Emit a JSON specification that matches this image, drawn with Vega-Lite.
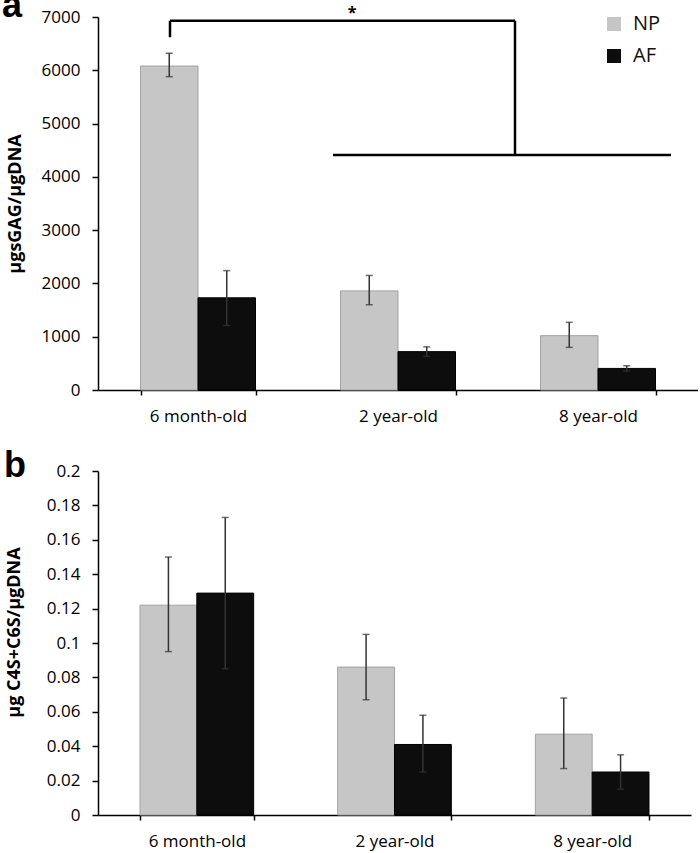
{
  "$schema": "https://vega.github.io/schema/vega-lite/v6.json",
  "padding": {"left": 2, "top": -12, "right": 0, "bottom": 14},
  "background": "white",
  "datasets": {
    "gag": [
      {"age": "6 month-old", "type": "NP", "mean": 6080, "lo": 5880, "hi": 6320},
      {"age": "6 month-old", "type": "AF", "mean": 1730, "lo": 1210, "hi": 2240},
      {"age": "2 year-old", "type": "NP", "mean": 1860, "lo": 1600, "hi": 2150},
      {"age": "2 year-old", "type": "AF", "mean": 720, "lo": 630, "hi": 810},
      {"age": "8 year-old", "type": "NP", "mean": 1020, "lo": 800, "hi": 1270},
      {"age": "8 year-old", "type": "AF", "mean": 405, "lo": 355, "hi": 455}
    ],
    "c4s": [
      {"age": "6 month-old", "type": "NP", "mean": 0.122, "lo": 0.095, "hi": 0.150},
      {"age": "6 month-old", "type": "AF", "mean": 0.129, "lo": 0.085, "hi": 0.173},
      {"age": "2 year-old", "type": "NP", "mean": 0.086, "lo": 0.067, "hi": 0.105},
      {"age": "2 year-old", "type": "AF", "mean": 0.041, "lo": 0.025, "hi": 0.058},
      {"age": "8 year-old", "type": "NP", "mean": 0.047, "lo": 0.027, "hi": 0.068},
      {"age": "8 year-old", "type": "AF", "mean": 0.025, "lo": 0.015, "hi": 0.035}
    ],
    "bracket": [
      {"x1": 0.36, "x2": 2.085, "y1": 6930, "y2": 6930},
      {"x1": 0.36, "x2": 0.36, "y1": 6620, "y2": 6930},
      {"x1": 2.085, "x2": 2.085, "y1": 4410, "y2": 6930},
      {"x1": 1.175, "x2": 2.865, "y1": 4410, "y2": 4410}
    ],
    "star": [
      {"x": 1.27, "y": 7080, "label": "*"}
    ],
    "labelA": [
      {"x": -0.48, "y": 7000, "label": "a"}
    ],
    "labelB": [
      {"x": -0.475, "y": 0.1965, "label": "b"}
    ]
  },
  "config": {
    "view": {"stroke": null},
    "font": "Open Sans",
    "axis": {
      "domainColor": "#000",
      "domainWidth": 1.5,
      "tickColor": "#000",
      "tickWidth": 1.5,
      "labelColor": "#000",
      "titleColor": "#000",
      "grid": false,
      "labelOverlap": false,
      "labelSeparation": 0
    }
  },
  "spacing": 24,
  "resolve": {
    "scale": {"x": "independent", "y": "independent", "color": "independent", "xOffset": "independent", "stroke": "independent"},
    "legend": {"color": "independent"}
  },
  "vconcat": [
    {
      "width": 600,
      "height": 373,
      "resolve": {"scale": {"x": "independent"}, "axis": {"x": "independent"}},
      "layer": [
        {
          "data": {"name": "gag"},
          "encoding": {
            "x": {
              "field": "age", "type": "nominal",
              "sort": ["6 month-old", "2 year-old", "8 year-old"],
              "scale": {"paddingInner": 0.425, "paddingOuter": 0.2125},
              "axis": {"title": null, "labelAngle": 0, "labelFontSize": 17, "labelPadding": 13, "tickBand": "extent", "tickSize": 5}
            },
            "xOffset": {"field": "type", "type": "nominal", "sort": ["NP", "AF"]}
          },
          "layer": [
            {
              "mark": {"type": "bar", "strokeWidth": 1},
              "encoding": {
                "y": {
                  "field": "mean", "type": "quantitative",
                  "scale": {"domain": [0, 7000], "nice": false},
                  "axis": {"title": "µgsGAG/µgDNA", "values": [0, 1000, 2000, 3000, 4000, 5000, 6000, 7000], "format": "d", "labelFontSize": 17, "labelPadding": 12, "labelOverlap": false, "tickSize": 6, "titleFontSize": 18, "titleFontWeight": "bold", "titleX": -83, "titleBaseline": "middle", "titleAngle": -90}
                },
                "color": {
                  "field": "type", "type": "nominal",
                  "scale": {"domain": ["NP", "AF"], "range": ["#c6c6c6", "#0d0d0d"]},
                  "legend": {"title": null, "orient": "none", "legendX": 506, "legendY": -3, "symbolType": "square", "symbolSize": 196, "labelFontSize": 20, "labelOffset": 9, "rowPadding": 12, "padding": 0, "labelColor": "#111", "symbolStrokeWidth": 0}
                },
                "stroke": {
                  "field": "type", "type": "nominal",
                  "scale": {"domain": ["NP", "AF"], "range": ["#a3a3a3", "#000000"]},
                  "legend": null
                }
              }
            },
            {
              "mark": {"type": "rule", "color": "#333", "strokeWidth": 1.5},
              "encoding": {"y": {"field": "lo", "type": "quantitative"}, "y2": {"field": "hi"}}
            },
            {
              "mark": {"type": "tick", "color": "#333", "thickness": 1.5, "size": 7},
              "encoding": {"y": {"field": "hi", "type": "quantitative"}}
            },
            {
              "mark": {"type": "tick", "color": "#333", "thickness": 1.5, "size": 7},
              "encoding": {"y": {"field": "lo", "type": "quantitative"}}
            }
          ]
        },
        {
          "layer": [
            {
              "data": {"name": "bracket"},
              "mark": {"type": "rule", "color": "#000", "strokeWidth": 2.5},
              "encoding": {
                "x": {"field": "x1", "type": "quantitative", "scale": {"domain": [0, 3], "nice": false, "zero": false}, "axis": null},
                "x2": {"field": "x2"},
                "y": {"field": "y1", "type": "quantitative"},
                "y2": {"field": "y2"}
              }
            },
            {
              "data": {"name": "star"},
              "mark": {"type": "text", "fontSize": 16, "fontWeight": "bold", "baseline": "middle", "align": "center", "color": "#000"},
              "encoding": {
                "x": {"field": "x", "type": "quantitative", "scale": {"domain": [0, 3], "nice": false, "zero": false}, "axis": null},
                "y": {"field": "y", "type": "quantitative"},
                "text": {"field": "label"}
              }
            },
            {
              "data": {"name": "labelA"},
              "mark": {"type": "text", "fontSize": 36, "fontWeight": "bold", "font": "Liberation Sans", "baseline": "alphabetic", "align": "left", "color": "#000"},
              "encoding": {
                "x": {"field": "x", "type": "quantitative", "scale": {"domain": [0, 3], "nice": false, "zero": false}, "axis": null},
                "y": {"field": "y", "type": "quantitative"},
                "text": {"field": "label"}
              }
            }
          ]
        }
      ]
    },
    {
      "width": 593,
      "height": 344,
      "resolve": {"scale": {"x": "independent", "y": "independent"}, "axis": {"x": "independent", "y": "independent"}},
      "layer": [
        {
          "data": {"name": "c4s"},
          "encoding": {
            "x": {
              "field": "age", "type": "nominal",
              "sort": ["6 month-old", "2 year-old", "8 year-old"],
              "scale": {"paddingInner": 0.425, "paddingOuter": 0.2125},
              "axis": {"title": null, "labelAngle": 0, "labelFontSize": 17, "labelPadding": 13, "tickBand": "extent", "tickSize": 5}
            },
            "xOffset": {"field": "type", "type": "nominal", "sort": ["NP", "AF"]}
          },
          "layer": [
            {
              "mark": {"type": "bar", "strokeWidth": 1},
              "encoding": {
                "y": {
                  "field": "mean", "type": "quantitative",
                  "scale": {"domain": [0, 0.2], "nice": false},
                  "axis": {"title": "µg C4S+C6S/µgDNA", "tickCount": 10, "format": "~g", "labelFontSize": 17, "labelPadding": 12, "labelOverlap": false, "labelSeparation": 0, "tickSize": 6, "titleFontSize": 18, "titleFontWeight": "bold", "titleX": -84, "titleY": 161, "titleAlign": "center", "titleBaseline": "middle", "titleAngle": -90}
                },
                "color": {
                  "field": "type", "type": "nominal",
                  "scale": {"domain": ["NP", "AF"], "range": ["#c6c6c6", "#0d0d0d"]},
                  "legend": null
                },
                "stroke": {
                  "field": "type", "type": "nominal",
                  "scale": {"domain": ["NP", "AF"], "range": ["#a3a3a3", "#000000"]},
                  "legend": null
                }
              }
            },
            {
              "mark": {"type": "rule", "color": "#333", "strokeWidth": 1.5},
              "encoding": {"y": {"field": "lo", "type": "quantitative"}, "y2": {"field": "hi"}}
            },
            {
              "mark": {"type": "tick", "color": "#333", "thickness": 1.5, "size": 7},
              "encoding": {"y": {"field": "hi", "type": "quantitative"}}
            },
            {
              "mark": {"type": "tick", "color": "#333", "thickness": 1.5, "size": 7},
              "encoding": {"y": {"field": "lo", "type": "quantitative"}}
            }
          ]
        },
        {
          "data": {"name": "labelB"},
          "mark": {"type": "text", "fontSize": 36, "fontWeight": "bold", "font": "Liberation Sans", "baseline": "alphabetic", "align": "left", "color": "#000"},
          "encoding": {
            "x": {"field": "x", "type": "quantitative", "scale": {"domain": [0, 3], "nice": false, "zero": false}, "axis": null},
            "y": {"field": "y", "type": "quantitative", "scale": {"domain": [0, 0.2], "nice": false}, "axis": null},
            "text": {"field": "label"}
          }
        }
      ]
    }
  ]
}
